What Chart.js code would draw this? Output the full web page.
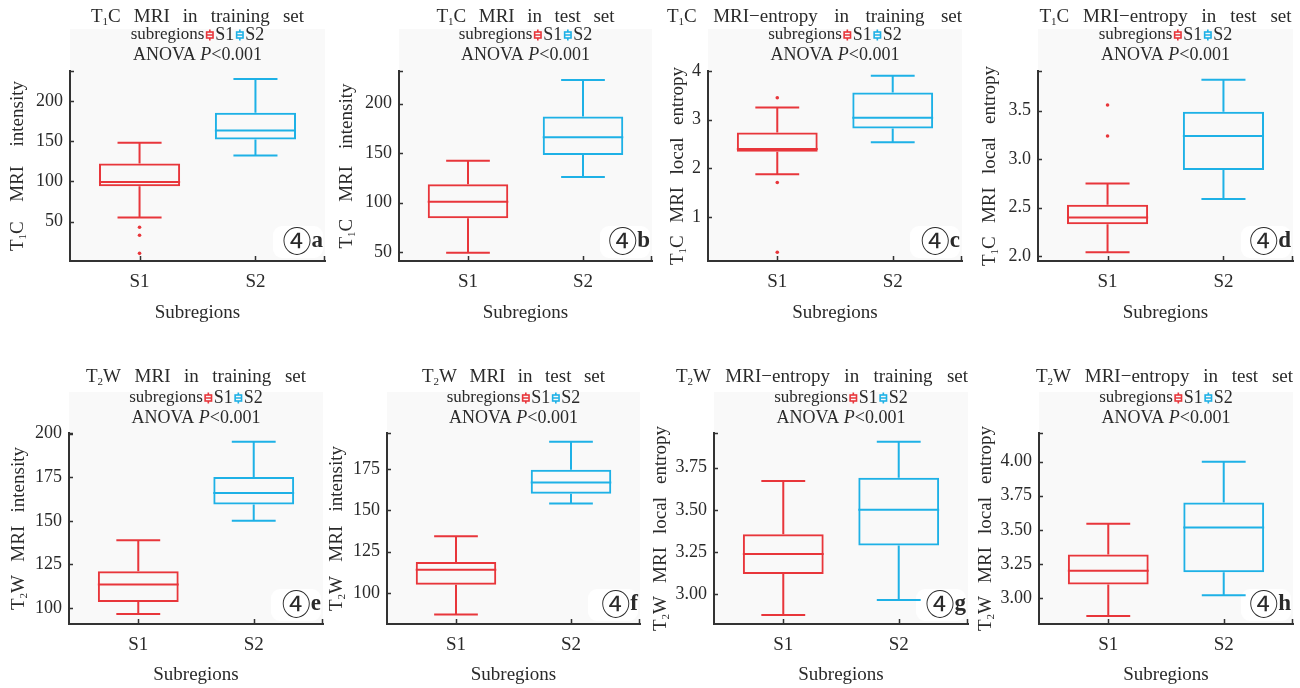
<!DOCTYPE html>
<html>
<head>
<meta charset="utf-8">
<script src="https://cdn.jsdelivr.net/npm/chart.js@4.4.1/dist/chart.umd.min.js"></script>
<style>
  body { margin: 0; background: #fff; }
  #wrap { position: relative; width: 1300px; height: 688px; overflow: hidden; }
  canvas { position: absolute; }
</style>
</head>
<body>
<div id="wrap"></div>
<script>
// ---- data ----
const subregions = ['S1', 'S2'];
const panelTags = ['a', 'b', 'c', 'd', 'e', 'f', 'g', 'h'];
const panelTitles = [
  'T₁C MRI in training set', 'T₁C MRI in test set',
  'T₁C MRI−entropy in training set', 'T₁C MRI−entropy in test set',
  'T₂W MRI in training set', 'T₂W MRI in test set',
  'T₂W MRI−entropy in training set', 'T₂W MRI−entropy in test set'
];
const yTitles = [
  'T₁C MRI intensity', 'T₁C MRI intensity', 'T₁C MRI local entropy', 'T₁C MRI local entropy',
  'T₂W MRI intensity', 'T₂W MRI intensity', 'T₂W MRI local entropy', 'T₂W MRI local entropy'
];

// five-number summaries per panel (a..h)
const s1Min    = [55, 49.3, 1.88, 2.04, 96.6, 87.1, 2.877, 2.868];
const s1Q1     = [94, 84.3, 2.34, 2.33, 103.4, 105, 3.119, 3.10];
const s1Median = [99, 101, 2.40, 2.40, 113.4, 114.1, 3.238, 3.20];
const s1Q3     = [122, 118.5, 2.74, 2.53, 121, 118.8, 3.355, 3.32];
const s1Max    = [148, 142.3, 3.25, 2.75, 138.9, 134.3, 3.671, 3.545];
const s1Outliers = [[43, 33, 10.5], [], [3.45, 1.71, 0.28], [3.56, 3.24], [], [], [], []];

const s2Min    = [132, 126, 2.54, 2.59, 150, 154.2, 2.966, 3.02];
const s2Q1     = [152, 148, 2.82, 2.89, 159.4, 160.1, 3.288, 3.19];
const s2Median = [163, 166, 3.04, 3.24, 166, 166.9, 3.50, 3.517];
const s2Q3     = [185, 187, 3.56, 3.49, 175.2, 174.6, 3.69, 3.70];
const s2Max    = [227, 224, 3.90, 3.82, 195.4, 191.5, 3.904, 4.00];

// y axes
const yMin      = [1, 41, 0.1, 1.95, 90.8, 81.3, 2.823, 2.81];
const yMax      = [237, 233, 4.0, 3.91, 200.4, 196.8, 3.956, 4.21];
const yStep     = [50, 50, 1, 0.5, 25, 25, 0.25, 0.25];
const yDecimals = [0, 0, 0, 1, 0, 0, 2, 2];

// ---- layout (pixels) ----
// [axis x, plot top, plot right, plot bottom]
const plotBoxes = [
  [70, 71, 325, 261], [399, 71, 652, 261], [708, 71, 962, 261], [1038, 71, 1293, 261],
  [69, 433, 323, 624], [387, 433, 640, 624], [714, 433, 968, 624], [1039, 433, 1293, 624]
];
const titleWidths = [213, 178, 295, 252, 220, 183, 292, 257];
const yTitleLengths = [170, 165, 198, 200, 163, 165, 205, 205];
const yTitleGaps = [52, 52, 30, 48, 50, 50, 53, 53];

const RED = '#e8363b';
const BLUE = '#1eb1e6';
const TEXT = '#2a2a2a';
const AXIS = '#333333';
const SERIF = '"Liberation Serif", "DejaVu Serif", serif';
const SUBS = { '₁': '1', '₂': '2' };

function runs(word) {
  return [...word].map(ch => SUBS[ch] ? { t: SUBS[ch], sub: true } : { t: ch, sub: false });
}
function setFont(ctx, size, sub) {
  ctx.font = (sub ? Math.round(size * 0.6) : size) + 'px ' + SERIF;
}
function wordWidth(ctx, word, size) {
  if (!/[₁₂]/.test(word)) { setFont(ctx, size, false); return ctx.measureText(word).width; }
  let w = 0;
  runs(word).forEach(r => { setFont(ctx, size, r.sub); w += ctx.measureText(r.t).width; });
  return w;
}
function drawWord(ctx, word, x, y, size) {
  if (!/[₁₂]/.test(word)) { setFont(ctx, size, false); ctx.fillText(word, x, y); return; }
  runs(word).forEach(r => {
    setFont(ctx, size, r.sub);
    ctx.fillText(r.t, x, r.sub ? y + size * 0.28 : y);
    x += ctx.measureText(r.t).width;
  });
}

function spreadText(ctx, text, cx, cy, width, size) {
  const words = text.split(' ');
  const ws = words.map(w => wordWidth(ctx, w, size));
  const sum = ws.reduce((p, c) => p + c, 0);
  const gap = Math.max((width - sum) / (words.length - 1), size * 0.25);
  const total = sum + gap * (words.length - 1);
  let x = cx - total / 2;
  ctx.textAlign = 'left';
  ctx.textBaseline = 'middle';
  words.forEach((w, i) => { drawWord(ctx, w, x, cy, size); x += ws[i] + gap; });
}

function legendIcon(ctx, x, y, color) {
  ctx.strokeStyle = color;
  ctx.lineWidth = 1.6;
  ctx.beginPath();
  ctx.moveTo(x, y - 5.5); ctx.lineTo(x, y - 3);
  ctx.moveTo(x, y + 3); ctx.lineTo(x, y + 5.5);
  ctx.moveTo(x - 3, y); ctx.lineTo(x + 3, y);
  ctx.stroke();
  ctx.strokeRect(x - 3.2, y - 3, 6.4, 6);
}

const decor = {
  id: 'decor',
  beforeDraw(chart, args, o) {
    const { ctx, chartArea: a } = chart;
    ctx.save();
    ctx.fillStyle = '#f9f9f9';
    ctx.fillRect(a.left, o.greyTop, a.right - a.left, a.bottom - o.greyTop);
    ctx.restore();
  },
  beforeDatasetsDraw(chart, args, o) {
    const { ctx, chartArea: a } = chart;
    ctx.save();
    ctx.fillStyle = '#ffffff';
    ctx.beginPath();
    ctx.roundRect(a.right - 52, a.bottom - 35, 50, 32, 9);
    ctx.fill();
    ctx.fillStyle = TEXT;
    ctx.textBaseline = 'middle';
    ctx.textAlign = 'right';
    ctx.font = 'bold 23px ' + SERIF;
    const lw = ctx.measureText(o.tag).width;
    ctx.fillText(o.tag, a.right - 2, a.bottom - 20);
    ctx.font = '29px "Noto Sans CJK SC", "DejaVu Sans", sans-serif';
    ctx.fillText('④', a.right - 2 - lw, a.bottom - 20);
    ctx.restore();
  },
  afterDraw(chart, args, o) {
    const { ctx, chartArea: a, scales } = chart;
    const cx = (a.left + a.right) / 2;
    ctx.save();
    ctx.fillStyle = TEXT;

    // title
    const tcx = Math.min(cx, a.right - o.titleWidth / 2);
    spreadText(ctx, o.title, tcx, o.rows[0], o.titleWidth, 19);

    // legend line
    ctx.font = '17px ' + SERIF;
    const lab = 'subregions';
    const w0 = ctx.measureText(lab).width;
    ctx.font = '18px ' + SERIF;
    const w1 = ctx.measureText('S1').width, w2 = ctx.measureText('S2').width;
    const total = w0 + 11 + w1 + 11 + w2;
    let x = cx - total / 2;
    const ly = o.rows[1];
    ctx.textAlign = 'left';
    ctx.textBaseline = 'middle';
    ctx.font = '17px ' + SERIF;
    ctx.fillText(lab, x, ly);
    x += w0 + 5.5;
    legendIcon(ctx, x, ly, RED);
    x += 5.5;
    ctx.font = '18px ' + SERIF;
    ctx.fillText('S1', x, ly);
    x += w1 + 5.5;
    legendIcon(ctx, x, ly, BLUE);
    x += 5.5;
    ctx.fillText('S2', x, ly);

    // ANOVA line
    const ay = o.rows[2];
    ctx.font = '18px ' + SERIF;
    const p1 = 'ANOVA ', p3 = '<0.001';
    const wa = ctx.measureText(p1).width, wc = ctx.measureText(p3).width;
    ctx.font = 'italic 18px ' + SERIF;
    const wb = ctx.measureText('P').width;
    x = cx - (wa + wb + wc) / 2;
    ctx.font = '18px ' + SERIF;
    ctx.fillText(p1, x, ay);
    ctx.font = 'italic 18px ' + SERIF;
    ctx.fillText('P', x + wa, ay);
    ctx.font = '18px ' + SERIF;
    ctx.fillText(p3, x + wa + wb, ay);

    // y title
    ctx.translate(a.left - o.yGap, (a.top + a.bottom) / 2);
    ctx.rotate(-Math.PI / 2);
    spreadText(ctx, o.yTitle, 0, 0, o.yLength, 19);
    ctx.setTransform(1, 0, 0, 1, 0, 0);

    // inward tick marks
    ctx.strokeStyle = AXIS;
    ctx.lineWidth = 1.5;
    ctx.beginPath();
    scales.y.ticks.forEach(t => {
      const py = Math.round(scales.y.getPixelForValue(t.value)) + 0.5;
      ctx.moveTo(a.left, py); ctx.lineTo(a.left + 4, py);
    });
    ctx.moveTo(a.left, a.top + 0.5); ctx.lineTo(a.left + 4, a.top + 0.5);
    scales.x.ticks.forEach(t => {
      const px = Math.round(scales.x.getPixelForValue(t.value)) + 0.5;
      ctx.moveTo(px, a.bottom); ctx.lineTo(px, a.bottom - 5);
    });
    ctx.moveTo(a.right - 0.5, a.bottom); ctx.lineTo(a.right - 0.5, a.bottom - 5);
    ctx.stroke();
    ctx.restore();
  }
};

function whiskerPoints(x, lo, q1, med, q3, hi) {
  const cap = 0.19, half = 0.35;
  return [
    { x: x - cap, y: hi }, { x: x + cap, y: hi }, { x: x, y: null },
    { x: x, y: hi }, { x: x, y: q3 }, { x: x, y: null },
    { x: x, y: q1 }, { x: x, y: lo }, { x: x, y: null },
    { x: x - cap, y: lo }, { x: x + cap, y: lo }, { x: x, y: null },
    { x: x - half, y: med }, { x: x + half, y: med }
  ];
}

const wrap = document.getElementById('wrap');

plotBoxes.forEach((b, i) => {
  const row = i < 4 ? 0 : 1;
  const canvasTop = row ? 355 : 0;
  const canvasH = row ? 333 : 344;
  const [axisX, top, right, bottom] = b;
  const left = axisX - 70;
  const canvasW = right - axisX + 76;
  const cv = document.createElement('canvas');
  cv.width = canvasW; cv.height = canvasH;
  cv.style.left = left + 'px'; cv.style.top = canvasTop + 'px';
  cv.style.width = canvasW + 'px'; cv.style.height = canvasH + 'px';
  wrap.appendChild(cv);

  const xAxisH = canvasH - (bottom - canvasTop);
  const tickFont = { family: SERIF, size: 18 };

  new Chart(cv, {
    type: 'bar',
    data: {
      datasets: [
        {
          type: 'bar',
          data: [
            { x: 1, y: [s1Q1[i], s1Q3[i]] },
            { x: 2, y: [s2Q1[i], s2Q3[i]] }
          ],
          backgroundColor: 'rgba(0,0,0,0)',
          borderColor: [RED, BLUE],
          borderWidth: 2,
          borderSkipped: false,
          barPercentage: 0.7,
          categoryPercentage: 1
        },
        {
          type: 'line',
          data: whiskerPoints(1, s1Min[i], s1Q1[i], s1Median[i], s1Q3[i], s1Max[i]),
          borderColor: RED, borderWidth: 2, pointRadius: 0, spanGaps: false, fill: false
        },
        {
          type: 'line',
          data: whiskerPoints(2, s2Min[i], s2Q1[i], s2Median[i], s2Q3[i], s2Max[i]),
          borderColor: BLUE, borderWidth: 2, pointRadius: 0, spanGaps: false, fill: false
        },
        {
          type: 'scatter',
          data: s1Outliers[i].map(v => ({ x: 1, y: v })),
          pointRadius: 1.8, backgroundColor: RED, borderWidth: 0
        }
      ]
    },
    options: {
      responsive: false,
      animation: false,
      devicePixelRatio: 1,
      layout: { padding: { left: 0, top: top - canvasTop, right: canvasW - 70 - (right - axisX), bottom: 0 } },
      scales: {
        x: {
          type: 'linear', min: 0.4, max: 2.6, offset: false,
          afterBuildTicks: s => { s.ticks = subregions.map((_, k) => ({ value: k + 1 })); },
          afterFit: s => { s.height = xAxisH; },
          grid: { display: false, drawTicks: false },
          border: { display: true, color: AXIS, width: 2 },
          ticks: { padding: 10, color: TEXT, font: { family: SERIF, size: 19 }, callback: v => subregions[v - 1] },
          title: { display: true, text: 'Subregions', color: TEXT, font: { family: SERIF, size: 19 },
                   padding: { top: 0, bottom: row ? 2 : 20 } }
        },
        y: {
          min: yMin[i], max: yMax[i],
          afterFit: s => { s.width = 70; },
          grid: { display: false, drawTicks: false },
          border: { display: true, color: AXIS, width: 2 },
          ticks: { stepSize: yStep[i], includeBounds: false, padding: 7, color: TEXT, font: tickFont,
                   callback: v => Number(v).toFixed(yDecimals[i]) }
        }
      },
      plugins: {
        legend: { display: false },
        tooltip: { enabled: false },
        decor: {
          greyTop: row ? 37 : 29,
          rows: row ? [22, 43, 63] : [17, 35, 55],
          title: panelTitles[i],
          titleWidth: titleWidths[i],
          yTitle: yTitles[i],
          yLength: yTitleLengths[i],
          yGap: yTitleGaps[i],
          tag: panelTags[i]
        }
      }
    },
    plugins: [decor]
  });
});
</script>
</body>
</html>
